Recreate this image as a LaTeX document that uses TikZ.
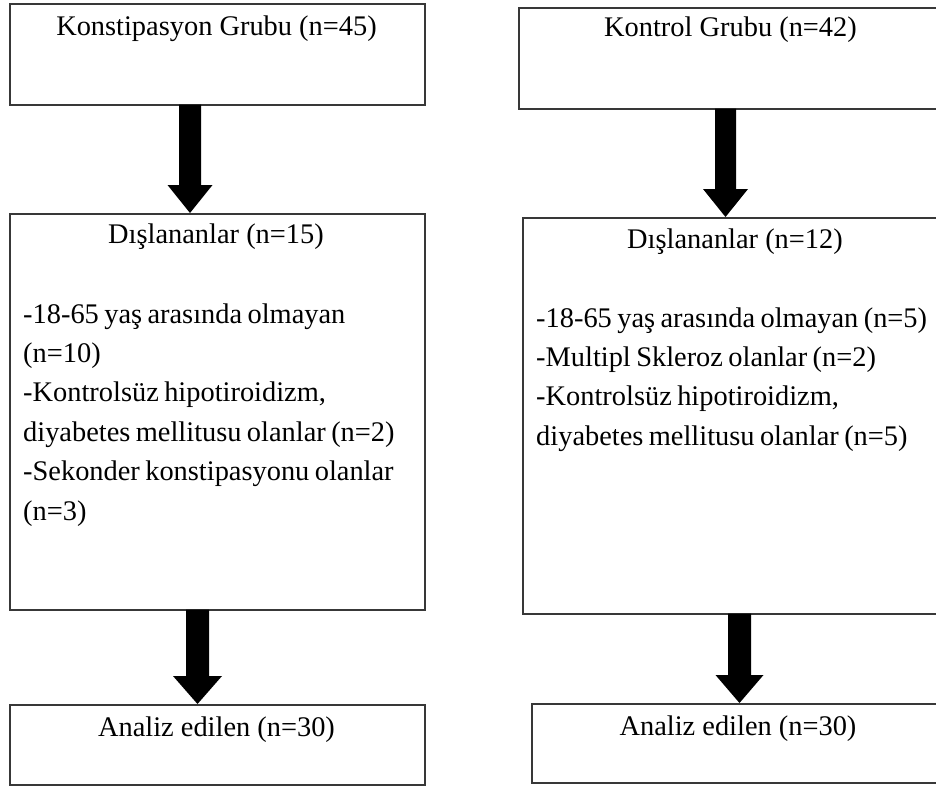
\documentclass[tikz,border=0pt]{standalone}
\usepackage{fontspec}
\setmainfont{Liberation Serif}
\usetikzlibrary{calc}
\newcommand\blockarr[4]{%
  \fill[black] ($(#1)+(-#3,-1)$) -- ($(#1)+(#3,-1)$) -- ($(#2)+(#3,-28)$) -- ($(#2)+(#4,-28)$) -- (#2) -- ($(#2)+(-#4,-28)$) -- ($(#2)+(-#3,-28)$) -- cycle;}
\begin{document}
\begin{tikzpicture}[x=1pt,y=-1pt,
  box/.style={draw=black!78, line width=1.5pt, rectangle, inner sep=0pt, anchor=north west},
  lbl/.style={inner sep=0pt, anchor=base, font=\fontsize{28.4}{39.4}\selectfont},
  listtxt/.style={inner sep=0pt, anchor=base west, font=\fontsize{28.4}{39.4}\selectfont}]
\useasboundingbox (0,0) rectangle (936,788);
% left column
\node[box, minimum width=415pt, minimum height=101pt] (k1) at (9,3) {};
\node[box, minimum width=415pt, minimum height=396pt] (d1) at (9,213) {};
\node[box, minimum width=415pt, minimum height=80pt] (a1) at (9,704) {};
% right column
\node[box, minimum width=437pt, minimum height=101pt] (c1) at (518,7) {};
\node[box, minimum width=433pt, minimum height=396pt] (e1) at (522,217) {};
\node[box, minimum width=424pt, minimum height=79pt] (b1) at (531,703) {};
% texts
\node[lbl] (k1t) at (216.5,35) {Konstipasyon Grubu (n=45)};
\node[lbl] (c1t) at (730.5,36) {Kontrol Grubu (n=42)};
\node[lbl] (d1t) at (216,243) {Dışlananlar (n=15)};
\node[lbl] (e1t) at (735,248) {Dışlananlar (n=12)};
\node[lbl] (a1t) at (216.5,736) {Analiz edilen (n=30)};
\node[lbl] (b1t) at (738,735) {Analiz edilen (n=30)};
\node[listtxt] (d1l) at (23,323) {\parbox[t]{405pt}{\raggedright\spaceskip=0.19em
-18-65 yaş arasında olmayan\\
(n=10)\\
-Kontrolsüz hipotiroidizm,\\
diyabetes mellitusu olanlar (n=2)\\
-Sekonder konstipasyonu olanlar\\
(n=3)}};
\node[listtxt] (e1l) at (536,327) {\parbox[t]{405pt}{\raggedright\spaceskip=0.19em
-18-65 yaş arasında olmayan (n=5)\\
-Multipl Skleroz olanlar (n=2)\\
-Kontrolsüz hipotiroidizm,\\
diyabetes mellitusu olanlar (n=5)}};
% arrows
\coordinate (s1) at ([xshift=181pt]k1.south west);
\coordinate (t1) at ([xshift=181pt]d1.north west);
\coordinate (s2) at ([xshift=188.5pt]d1.south west);
\coordinate (t2) at ([xshift=188.5pt]a1.north west);
\coordinate (s3) at ([xshift=207.5pt]c1.south west);
\coordinate (t3) at ([xshift=203.5pt]e1.north west);
\coordinate (s4) at ([xshift=217.5pt]e1.south west);
\coordinate (t4) at ([xshift=208.5pt]b1.north west);
\blockarr{s1}{t1}{11}{22.5}
\blockarr{s2}{t2}{11.5}{24.5}
\blockarr{s3}{t3}{10.5}{22.5}
\blockarr{s4}{t4}{11.5}{24}
\end{tikzpicture}
\end{document}
